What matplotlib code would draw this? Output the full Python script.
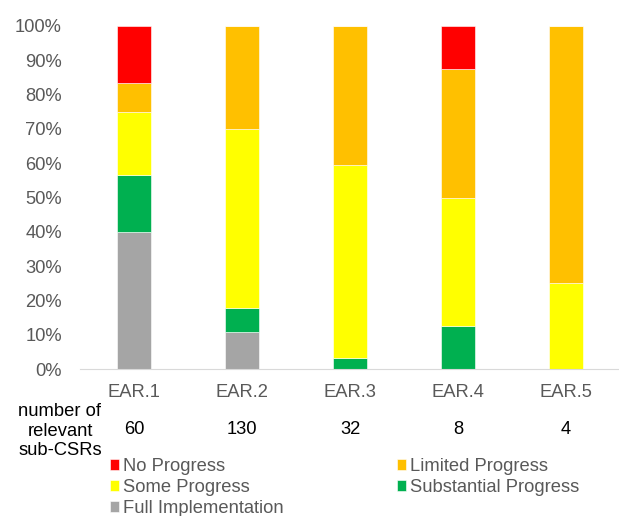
import numpy as np
import matplotlib.pyplot as plt

plt.rcParams['font.family'] = ['Liberation Sans', 'DejaVu Sans']

categories = ['EAR.1', 'EAR.2', 'EAR.3', 'EAR.4', 'EAR.5']
n_subcsrs = [60, 130, 32, 8, 4]

# shares in percent
full_impl = [40.0, 10.8, 0.0, 0.0, 0.0]
substantial = [16.7, 6.9, 3.1, 12.5, 0.0]
some = [18.3, 52.3, 56.3, 37.5, 25.0]
limited = [8.3, 30.0, 40.6, 37.5, 75.0]
no_progress = [16.7, 0.0, 0.0, 12.5, 0.0]

series = [
    ('Full Implementation', full_impl, '#A5A5A5'),
    ('Substantial Progress', substantial, '#00B050'),
    ('Some Progress', some, '#FFFF00'),
    ('Limited Progress', limited, '#FFC000'),
    ('No Progress', no_progress, '#FF0000'),
]

grey = '#595959'
fs = 13.2
fig = plt.figure(figsize=(6.19, 5.16), dpi=100)
ax = fig.add_axes([80/619, 1-369/516, 540/619, 343/516])

x = np.arange(len(categories))
bottom = np.zeros(len(categories))
handles = {}
for name, vals, col in series:
    vals = np.array(vals)
    b = ax.bar(x, vals, 0.31, bottom=bottom, color=col, edgecolor='white', linewidth=0.4, label=name)
    handles[name] = b
    bottom += vals

ax.set_xlim(-0.5, len(categories) - 0.5)
ax.set_ylim(0, 100)
ax.set_yticks(np.arange(0, 101, 10))
ax.set_yticklabels(['%d%%' % v for v in range(0, 101, 10)], fontsize=fs, color=grey)
ax.set_xticks(x)
ax.set_xticklabels(categories, fontsize=fs, color=grey)
ax.tick_params(axis='x', length=0, pad=11)
ax.tick_params(axis='y', length=0, pad=13)
for s in ['top', 'right', 'left']:
    ax.spines[s].set_visible(False)
ax.spines['bottom'].set_color('#D9D9D9')

for xi, n in zip(x, n_subcsrs):
    ax.text(xi, -17.7, str(n), ha='center', va='center', fontsize=fs, color='black')
fig.text(60/619, 1-431/516, 'number of\nrelevant\nsub-CSRs', ha='center', va='center',
         fontsize=fs, linespacing=1.18, color='black')

order = ['No Progress', 'Some Progress', 'Full Implementation', 'Limited Progress', 'Substantial Progress']
leg = fig.legend([handles[k] for k in order], order, ncol=2, loc='upper left',
                 bbox_to_anchor=(110/619, 1-458/516), frameon=False, fontsize=fs,
                 handlelength=0.5, handleheight=0.5, handletextpad=0.2,
                 columnspacing=6.2, labelspacing=0.22, borderpad=0, borderaxespad=0)
for t in leg.get_texts():
    t.set_color(grey)

fig.savefig('out.png', dpi=100)
